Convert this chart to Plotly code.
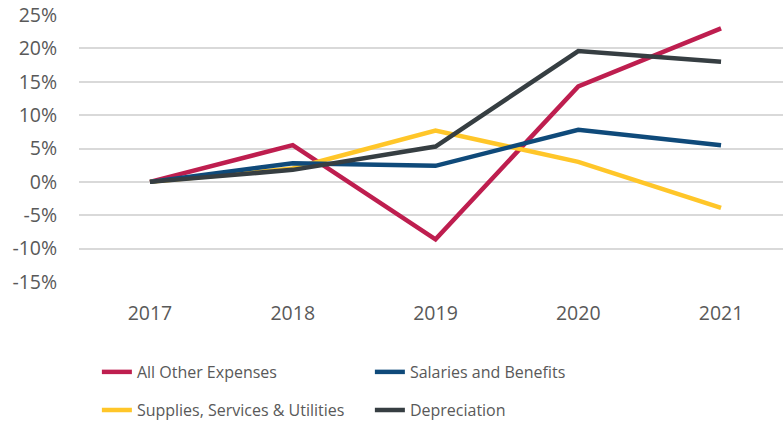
import plotly.graph_objects as go

years = [2017, 2018, 2019, 2020, 2021]
all_other = [0.0, 5.5, -8.6, 14.3, 23.0]
salaries = [0.0, 2.8, 2.4, 7.8, 5.5]
supplies = [0.0, 2.0, 7.7, 3.0, -3.9]
depreciation = [0.0, 1.8, 5.3, 19.6, 18.0]

y_ticks = [-15, -10, -5, 0, 5, 10, 15, 20, 25]
y_labels = [f"{v}%" for v in y_ticks]

series = [
    ("All Other Expenses", all_other, "#BE1E4F", "legend"),
    ("Salaries and Benefits", salaries, "#0F4A7A", "legend"),
    ("Supplies, Services & Utilities", supplies, "#FFC629", "legend2"),
    ("Depreciation", depreciation, "#363E42", "legend2"),
]

tick_font = dict(family="Open Sans", size=19.5, color="#595959")
legend_font = dict(family="Open Sans", size=16, color="#595959")

fig = go.Figure()
# draw order: keep dark line on top like the original
for name, vals, color, leg in [series[0], series[2], series[1], series[3]]:
    fig.add_trace(go.Scatter(
        x=years, y=vals, name=name, mode="lines",
        line=dict(color=color, width=4.5),
        legend=leg,
    ))

legend_style = dict(
    orientation="h", xanchor="left", yanchor="middle",
    font=legend_font, entrywidth=228, bgcolor="rgba(0,0,0,0)",
    traceorder="normal",
)

fig.update_layout(
    width=783, height=425,
    margin=dict(l=79, r=0, t=15, b=143, autoexpand=False),
    plot_bgcolor="white", paper_bgcolor="white",
    font=tick_font,
    showlegend=True,
    legend=dict(x=0.0254, y=-0.337, **legend_style),
    legend2=dict(x=0.0254, y=-0.48, **legend_style),
    xaxis=dict(
        range=[2016.503, 2021.434], tickvals=years, ticktext=[str(y) for y in years],
        showgrid=False, zeroline=False, showline=False, automargin=False,
        ticks="outside", ticklen=14, tickcolor="white", tickfont=tick_font,
    ),
    yaxis=dict(
        range=[-15, 25], tickvals=y_ticks, ticktext=y_labels,
        showgrid=True, gridcolor="#D9D9D9", gridwidth=1.5,
        zeroline=False, showline=False, automargin=False,
        ticks="outside", ticklen=17, tickcolor="white", tickfont=tick_font,
    ),
)

# the page body has a default 8px margin; drop it so the figure sits at 0,0
fig.write_html(
    "out.html",
    config={"displayModeBar": False},
    post_script="document.body.style.margin='0';",
)
